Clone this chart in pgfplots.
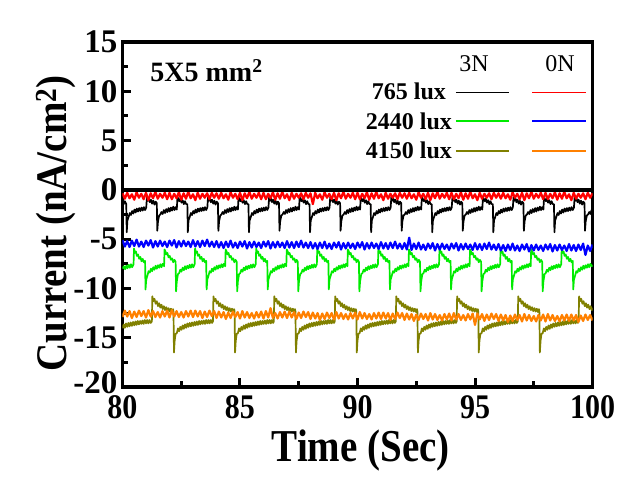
\documentclass[border=0pt]{standalone}
\usepackage{pgfplots}
\usepackage{pgfplotstable}
\usepackage{graphicx}
\usepackage{fontspec}
\setmainfont{Liberation Serif}
\pgfplotsset{compat=1.18}
\definecolor{cgreen}{RGB}{0,235,0}
\definecolor{colive}{RGB}{128,128,0}
\definecolor{corange}{RGB}{255,128,0}
% 0N series (765 lux red, 2440 lux blue, 4150 lux orange)
\pgfplotstableread{
t red blue orange
80.0 -0.35 -5.10 -12.90
80.1 -0.90 -5.75 -12.25
80.2 -0.30 -5.20 -12.85
80.3 -0.85 -5.80 -12.30
80.4 -0.45 -5.15 -13.00
80.5 -1.00 -5.70 -12.35
80.6 -0.25 -5.05 -12.90
80.7 -0.80 -5.75 -12.25
80.8 -0.40 -5.25 -12.80
80.9 -0.95 -5.80 -12.30
81.0 -0.30 -5.15 -12.95
81.1 -1.05 -5.65 -12.20
81.2 -0.35 -5.10 -12.85
81.3 -0.85 -5.85 -12.30
81.4 -0.20 -5.20 -12.90
81.5 -0.90 -5.75 -12.40
81.6 -0.40 -5.15 -12.95
81.7 -0.80 -5.70 -12.30
81.8 -0.30 -5.25 -12.85
81.9 -0.95 -5.80 -12.25
82.0 -0.30 -5.15 -12.95
82.1 -0.95 -5.65 -12.20
82.2 -0.40 -5.10 -12.85
82.3 -0.85 -5.85 -12.30
82.4 -0.25 -5.20 -12.90
82.5 -1.00 -5.75 -12.40
82.6 -0.35 -5.15 -12.95
82.7 -0.90 -5.70 -12.30
82.8 -0.20 -5.25 -12.85
82.9 -0.85 -5.80 -12.25
83.0 -0.45 -5.10 -12.90
83.1 -1.05 -5.75 -12.25
83.2 -0.30 -5.20 -12.85
83.3 -0.90 -5.80 -12.30
83.4 -0.40 -5.15 -13.00
83.5 -0.80 -5.70 -12.35
83.6 -0.35 -5.05 -12.90
83.7 -0.95 -5.75 -12.25
83.8 -0.30 -5.25 -12.80
83.9 -0.80 -5.80 -12.30
84.0 -0.35 -5.20 -13.00
84.1 -0.90 -5.85 -12.35
84.2 -0.30 -5.30 -12.95
84.3 -0.85 -5.90 -12.40
84.4 -0.45 -5.25 -13.10
84.5 -1.00 -5.80 -12.45
84.6 -0.25 -5.15 -13.00
84.7 -0.80 -5.85 -12.35
84.8 -0.40 -5.35 -12.90
84.9 -0.95 -5.90 -12.40
85.0 -0.30 -5.25 -13.05
85.1 -1.05 -5.75 -12.30
85.2 -0.35 -5.20 -12.95
85.3 -0.85 -5.95 -12.40
85.4 -0.20 -5.30 -13.00
85.5 -0.90 -5.85 -12.50
85.6 -0.40 -5.25 -13.05
85.7 -0.80 -5.80 -12.40
85.8 -0.30 -5.35 -12.95
85.9 -0.95 -5.90 -12.35
86.0 -0.30 -5.25 -13.05
86.1 -0.95 -5.75 -12.30
86.2 -0.40 -5.20 -12.95
86.3 -0.85 -5.95 -12.00
86.4 -0.25 -5.30 -13.00
86.5 -1.00 -5.85 -12.50
86.6 -0.35 -5.25 -13.05
86.7 -0.90 -5.80 -12.40
86.8 -0.20 -5.35 -12.95
86.9 -0.85 -5.90 -12.35
87.0 -0.45 -5.20 -13.00
87.1 -1.05 -5.85 -12.35
87.2 -0.30 -5.30 -12.95
87.3 -0.90 -5.90 -12.40
87.4 -0.40 -5.25 -13.10
87.5 -0.80 -5.80 -12.45
87.6 -0.35 -5.15 -13.00
87.7 -0.95 -5.85 -12.35
87.8 -0.30 -5.35 -12.90
87.9 -0.80 -5.90 -12.40
88.0 -0.35 -5.30 -13.10
88.1 -1.45 -5.95 -12.45
88.2 -0.30 -5.40 -13.05
88.3 -0.85 -6.00 -12.50
88.4 -0.45 -5.35 -13.20
88.5 -1.00 -5.90 -12.55
88.6 -0.25 -5.25 -13.10
88.7 -0.80 -5.95 -12.45
88.8 -0.40 -5.45 -13.00
88.9 -0.95 -6.00 -12.50
89.0 -0.30 -5.35 -13.15
89.1 -1.05 -5.85 -12.40
89.2 -0.35 -5.30 -13.05
89.3 -0.85 -6.05 -12.50
89.4 -0.20 -5.40 -13.10
89.5 -0.90 -5.95 -12.60
89.6 -0.40 -5.35 -13.15
89.7 -0.80 -5.90 -12.50
89.8 -0.30 -5.45 -13.05
89.9 -0.95 -6.00 -12.45
90.0 -0.30 -5.35 -13.15
90.1 -0.95 -5.85 -12.40
90.2 -0.40 -5.30 -13.05
90.3 -0.85 -6.05 -12.50
90.4 -0.25 -5.40 -13.10
90.5 -1.00 -5.95 -12.60
90.6 -0.35 -5.35 -13.15
90.7 -0.90 -5.90 -12.50
90.8 -0.20 -5.45 -13.05
90.9 -0.85 -6.00 -12.45
91.0 -0.45 -5.30 -13.10
91.1 -1.05 -5.95 -12.45
91.2 -0.30 -5.40 -13.05
91.3 -0.90 -6.00 -12.50
91.4 -0.40 -5.35 -13.20
91.5 -0.80 -5.90 -12.55
91.6 -0.35 -5.25 -13.10
91.7 -0.95 -5.95 -12.45
91.8 -0.30 -5.45 -13.00
91.9 -0.80 -6.00 -12.50
92.0 -0.35 -5.40 -13.20
92.1 -0.90 -6.05 -12.55
92.2 -0.30 -4.85 -13.15
92.3 -0.85 -6.10 -12.60
92.4 -0.45 -5.45 -13.30
92.5 -1.00 -6.00 -12.65
92.6 -0.25 -5.35 -13.20
92.7 -0.80 -6.05 -12.55
92.8 -0.40 -5.55 -13.10
92.9 -0.95 -6.10 -12.60
93.0 -0.30 -5.45 -13.25
93.1 -1.05 -5.95 -12.50
93.2 -0.35 -5.40 -13.15
93.3 -0.85 -6.15 -12.60
93.4 -0.20 -5.50 -13.20
93.5 -0.90 -6.05 -12.70
93.6 -0.40 -5.45 -13.25
93.7 -0.80 -6.00 -12.60
93.8 -0.30 -5.55 -13.15
93.9 -0.95 -6.10 -12.55
94.0 -0.30 -5.45 -13.25
94.1 -0.95 -5.95 -12.50
94.2 -0.40 -5.40 -13.15
94.3 -0.85 -6.15 -12.60
94.4 -0.25 -5.50 -13.20
94.5 -1.00 -6.05 -12.70
94.6 -0.35 -5.45 -13.25
94.7 -0.90 -6.00 -12.60
94.8 -0.20 -5.55 -13.15
94.9 -0.85 -6.10 -12.55
95.0 -0.45 -5.40 -13.70
95.1 -1.05 -6.05 -12.55
95.2 -0.30 -5.50 -13.15
95.3 -0.90 -6.10 -12.60
95.4 -0.40 -5.45 -13.30
95.5 -0.80 -6.00 -12.65
95.6 -0.35 -5.35 -13.20
95.7 -0.95 -6.05 -12.55
95.8 -0.30 -5.55 -13.10
95.9 -0.80 -6.10 -12.60
96.0 -0.35 -5.50 -13.30
96.1 -0.90 -6.15 -12.65
96.2 -0.30 -5.60 -13.25
96.3 -0.85 -6.20 -12.70
96.4 -0.45 -5.55 -13.40
96.5 -1.00 -6.10 -12.75
96.6 -0.25 -5.45 -13.30
96.7 -0.80 -6.15 -12.65
96.8 -0.40 -5.65 -13.20
96.9 -0.95 -6.20 -12.70
97.0 -0.30 -5.55 -13.35
97.1 -1.05 -6.05 -12.60
97.2 -0.35 -5.50 -13.25
97.3 -0.85 -6.25 -12.70
97.4 -0.20 -5.60 -13.30
97.5 -0.90 -6.15 -12.80
97.6 -0.40 -5.55 -13.35
97.7 -0.80 -6.10 -12.70
97.8 -0.30 -5.65 -13.25
97.9 -0.95 -6.20 -12.65
98.0 -0.30 -5.55 -13.35
98.1 -0.95 -6.05 -12.60
98.2 -0.40 -5.50 -13.25
98.3 -0.85 -6.25 -12.70
98.4 -0.25 -5.60 -13.30
98.5 -1.00 -6.15 -12.80
98.6 -0.35 -5.55 -13.35
98.7 -0.90 -6.10 -12.70
98.8 -0.20 -5.65 -13.25
98.9 -0.85 -6.20 -12.65
99.0 -0.45 -5.50 -13.30
99.1 -1.05 -6.15 -12.65
99.2 -0.30 -5.60 -13.25
99.3 -0.90 -6.20 -12.70
99.4 -0.40 -5.55 -13.40
99.5 -0.80 -6.10 -12.75
99.6 -0.35 -5.45 -13.30
99.7 -0.95 -6.60 -12.65
99.8 -0.30 -5.65 -13.20
99.9 -0.80 -6.20 -12.70
100.0 -0.35 -5.55 -13.25
}\flat
\begin{document}
\begin{tikzpicture}
\begin{axis}[
  at={(0,0)}, anchor=south west,
  scale only axis, width=470bp, height=345bp,
  xmin=80, xmax=100, ymin=-20, ymax=15,
  xtick={80,85,90,95,100},
  xticklabels={\scalebox{1}[1.15]{80},\scalebox{1}[1.15]{85},\scalebox{1}[1.15]{90},\scalebox{1}[1.15]{95},\scalebox{1}[1.15]{100}},
  ytick={-20,-15,-10,-5,0,5,10,15},
  yticklabels={\raisebox{9bp}{-20},-15,-10,-5,0,5,10,15},
  minor x tick num=1, minor y tick num=1,
  tick align=inside, xtick pos=bottom, ytick pos=left,
  major tick length=9bp, minor tick length=6bp,
  tick style={line width=3bp, black},
  axis line style={line width=3.5bp},
  xticklabel style={font=\fontsize{30bp}{30bp}\selectfont\bfseries, inner sep=0pt, anchor=north, yshift=-8bp},
  yticklabel style={font=\fontsize{33bp}{33bp}\selectfont\bfseries, inner sep=0pt, anchor=east, xshift=-5bp},
  xlabel={\scalebox{1}[1.17]{Time (Sec)}},
  ylabel={\scalebox{1}[1.12]{Current (nA/cm\textsuperscript{2})}},
  every axis x label/.style={at={(axis description cs:0.507,-0.2165)}, anchor=base, font=\fontsize{39bp}{39bp}\selectfont\bfseries},
  every axis y label/.style={at={(axis description cs:-0.1187,0.4745)}, anchor=base, rotate=90, font=\fontsize{39bp}{39bp}\selectfont\bfseries},
  every axis plot/.append style={line width=1.7bp, line join=round},
]
% 3N, 765 lux
\addplot[black] coordinates {
(80.00,-1.20)(80.05,-1.45)(80.10,-1.15)
(80.16,-1.45)(80.18,-4.30)(80.21,-3.10)(80.26,-2.75)(80.31,-2.35)(80.36,-2.55)(80.41,-2.15)(80.46,-2.40)(80.51,-2.00)(80.56,-2.30)(80.61,-1.90)(80.66,-2.20)(80.71,-1.85)(80.76,-2.15)(80.81,-1.80)(80.86,-2.10)(80.91,-1.75)(80.96,-2.05)(81.01,-1.80)(81.04,-0.75)(81.08,-1.10)(81.12,-0.85)(81.16,-1.25)(81.21,-1.00)(81.26,-1.40)(81.31,-1.10)(81.36,-1.50)(81.41,-1.20)
(81.46,-1.35)(81.48,-4.15)(81.51,-3.20)(81.56,-2.60)(81.61,-2.50)(81.66,-2.25)(81.71,-2.45)(81.76,-2.05)(81.81,-2.35)(81.86,-1.95)(81.91,-2.25)(81.96,-1.85)(82.01,-2.20)(82.06,-1.80)(82.11,-2.10)(82.16,-1.70)(82.21,-2.05)(82.26,-1.75)(82.31,-2.00)(82.34,-0.70)(82.38,-1.00)(82.42,-1.15)(82.46,-0.90)(82.51,-1.30)(82.56,-1.05)(82.61,-1.45)(82.66,-1.15)(82.71,-1.45)
(82.76,-1.45)(82.78,-4.30)(82.81,-3.10)(82.86,-2.75)(82.91,-2.35)(82.96,-2.55)(83.01,-2.15)(83.06,-2.40)(83.11,-2.00)(83.16,-2.30)(83.21,-1.90)(83.26,-2.20)(83.31,-1.85)(83.36,-2.15)(83.41,-1.80)(83.46,-2.10)(83.51,-1.75)(83.56,-2.05)(83.61,-1.80)(83.64,-0.75)(83.68,-1.10)(83.72,-0.85)(83.76,-1.25)(83.81,-1.00)(83.86,-1.40)(83.91,-1.10)(83.96,-1.50)(84.01,-1.20)
(84.06,-1.35)(84.08,-4.15)(84.11,-3.20)(84.16,-2.60)(84.21,-2.50)(84.26,-2.25)(84.31,-2.45)(84.36,-2.05)(84.41,-2.35)(84.46,-1.95)(84.51,-2.25)(84.56,-1.85)(84.61,-2.20)(84.66,-1.80)(84.71,-2.10)(84.76,-1.70)(84.81,-2.05)(84.86,-1.75)(84.91,-2.00)(84.94,-0.70)(84.98,-1.00)(85.02,-1.15)(85.06,-0.90)(85.11,-1.30)(85.16,-1.05)(85.21,-1.45)(85.26,-1.15)(85.31,-1.45)
(85.36,-1.45)(85.38,-4.30)(85.41,-3.10)(85.46,-2.75)(85.51,-2.35)(85.56,-2.55)(85.61,-2.15)(85.66,-2.40)(85.71,-2.00)(85.76,-2.30)(85.81,-1.90)(85.86,-2.20)(85.91,-1.85)(85.96,-2.15)(86.01,-1.80)(86.06,-2.10)(86.11,-1.75)(86.16,-2.05)(86.21,-1.80)(86.24,-0.75)(86.28,-1.10)(86.32,-0.85)(86.36,-1.25)(86.41,-1.00)(86.46,-1.40)(86.51,-1.10)(86.56,-1.50)(86.61,-1.20)
(86.66,-1.35)(86.68,-4.15)(86.71,-3.20)(86.76,-2.60)(86.81,-2.50)(86.86,-2.25)(86.91,-2.45)(86.96,-2.05)(87.01,-2.35)(87.06,-1.95)(87.11,-2.25)(87.16,-1.85)(87.21,-2.20)(87.26,-1.80)(87.31,-2.10)(87.36,-1.70)(87.41,-2.05)(87.46,-1.75)(87.51,-2.00)(87.54,-0.70)(87.58,-1.00)(87.62,-1.15)(87.66,-0.90)(87.71,-1.30)(87.76,-1.05)(87.81,-1.45)(87.86,-1.15)(87.91,-1.45)
(87.96,-1.45)(87.98,-4.30)(88.01,-3.10)(88.06,-2.75)(88.11,-2.35)(88.16,-2.55)(88.21,-2.15)(88.26,-2.40)(88.31,-2.00)(88.36,-2.30)(88.41,-1.90)(88.46,-2.20)(88.51,-1.85)(88.56,-2.15)(88.61,-1.80)(88.66,-2.10)(88.71,-1.75)(88.76,-2.05)(88.81,-1.80)(88.84,-0.75)(88.88,-1.10)(88.92,-0.85)(88.96,-1.25)(89.01,-1.00)(89.06,-1.40)(89.11,-1.10)(89.16,-1.50)(89.21,-1.20)
(89.26,-1.35)(89.28,-4.15)(89.31,-3.20)(89.36,-2.60)(89.41,-2.50)(89.46,-2.25)(89.51,-2.45)(89.56,-2.05)(89.61,-2.35)(89.66,-1.95)(89.71,-2.25)(89.76,-1.85)(89.81,-2.20)(89.86,-1.80)(89.91,-2.10)(89.96,-1.70)(90.01,-2.05)(90.06,-1.75)(90.11,-2.00)(90.14,-0.70)(90.18,-1.00)(90.22,-1.15)(90.26,-0.90)(90.31,-1.30)(90.36,-1.05)(90.41,-1.45)(90.46,-1.15)(90.51,-1.45)
(90.56,-1.45)(90.58,-4.30)(90.61,-3.10)(90.66,-2.75)(90.71,-2.35)(90.76,-2.55)(90.81,-2.15)(90.86,-2.40)(90.91,-2.00)(90.96,-2.30)(91.01,-1.90)(91.06,-2.20)(91.11,-1.85)(91.16,-2.15)(91.21,-1.80)(91.26,-2.10)(91.31,-1.75)(91.36,-2.05)(91.41,-1.80)(91.44,-0.75)(91.48,-1.10)(91.52,-0.85)(91.56,-1.25)(91.61,-1.00)(91.66,-1.40)(91.71,-1.10)(91.76,-1.50)(91.81,-1.20)
(91.86,-1.35)(91.88,-4.15)(91.91,-3.20)(91.96,-2.60)(92.01,-2.50)(92.06,-2.25)(92.11,-2.45)(92.16,-2.05)(92.21,-2.35)(92.26,-1.95)(92.31,-2.25)(92.36,-1.85)(92.41,-2.20)(92.46,-1.80)(92.51,-2.10)(92.56,-1.70)(92.61,-2.05)(92.66,-1.75)(92.71,-2.00)(92.74,-0.70)(92.78,-1.00)(92.82,-1.15)(92.86,-0.90)(92.91,-1.30)(92.96,-1.05)(93.01,-1.45)(93.06,-1.15)(93.11,-1.45)
(93.16,-1.45)(93.18,-4.30)(93.21,-3.10)(93.26,-2.75)(93.31,-2.35)(93.36,-2.55)(93.41,-2.15)(93.46,-2.40)(93.51,-2.00)(93.56,-2.30)(93.61,-1.90)(93.66,-2.20)(93.71,-1.85)(93.76,-2.15)(93.81,-1.80)(93.86,-2.10)(93.91,-1.75)(93.96,-2.05)(94.01,-1.80)(94.04,-0.75)(94.08,-1.10)(94.12,-0.85)(94.16,-1.25)(94.21,-1.00)(94.26,-1.40)(94.31,-1.10)(94.36,-1.50)(94.41,-1.20)
(94.46,-1.35)(94.48,-4.15)(94.51,-3.20)(94.56,-2.60)(94.61,-2.50)(94.66,-2.25)(94.71,-2.45)(94.76,-2.05)(94.81,-2.35)(94.86,-1.95)(94.91,-2.25)(94.96,-1.85)(95.01,-2.20)(95.06,-1.80)(95.11,-2.10)(95.16,-1.70)(95.21,-2.05)(95.26,-1.75)(95.31,-2.00)(95.34,-0.70)(95.38,-1.00)(95.42,-1.15)(95.46,-0.90)(95.51,-1.30)(95.56,-1.05)(95.61,-1.45)(95.66,-1.15)(95.71,-1.45)
(95.76,-1.45)(95.78,-4.30)(95.81,-3.10)(95.86,-2.75)(95.91,-2.35)(95.96,-2.55)(96.01,-2.15)(96.06,-2.40)(96.11,-2.00)(96.16,-2.30)(96.21,-1.90)(96.26,-2.20)(96.31,-1.85)(96.36,-2.15)(96.41,-1.80)(96.46,-2.10)(96.51,-1.75)(96.56,-2.05)(96.61,-1.80)(96.64,-0.75)(96.68,-1.10)(96.72,-0.85)(96.76,-1.25)(96.81,-1.00)(96.86,-1.40)(96.91,-1.10)(96.96,-1.50)(97.01,-1.20)
(97.06,-1.35)(97.08,-4.15)(97.11,-3.20)(97.16,-2.60)(97.21,-2.50)(97.26,-2.25)(97.31,-2.45)(97.36,-2.05)(97.41,-2.35)(97.46,-1.95)(97.51,-2.25)(97.56,-1.85)(97.61,-2.20)(97.66,-1.80)(97.71,-2.10)(97.76,-1.70)(97.81,-2.05)(97.86,-1.75)(97.91,-2.00)(97.94,-0.70)(97.98,-1.00)(98.02,-1.15)(98.06,-0.90)(98.11,-1.30)(98.16,-1.05)(98.21,-1.45)(98.26,-1.15)(98.31,-1.45)
(98.36,-1.45)(98.38,-4.30)(98.41,-3.10)(98.46,-2.75)(98.51,-2.35)(98.56,-2.55)(98.61,-2.15)(98.66,-2.40)(98.71,-2.00)(98.76,-2.30)(98.81,-1.90)(98.86,-2.20)(98.91,-1.85)(98.96,-2.15)(99.01,-1.80)(99.06,-2.10)(99.11,-1.75)(99.16,-2.05)(99.21,-1.80)(99.24,-0.75)(99.28,-1.10)(99.32,-0.85)(99.36,-1.25)(99.41,-1.00)(99.46,-1.40)(99.51,-1.10)(99.56,-1.50)(99.61,-1.20)
(99.66,-1.35)(99.68,-4.15)(99.71,-3.20)(99.76,-2.60)(99.81,-2.50)(99.86,-2.25)(99.91,-2.45)(99.96,-2.05)(100.00,-2.30)
};
% 3N, 2440 lux
\addplot[cgreen] coordinates {
(80.00,-8.00)(80.06,-7.75)(80.11,-8.05)(80.16,-7.70)(80.21,-7.95)(80.26,-7.60)(80.31,-7.90)(80.36,-7.55)(80.41,-7.85)(80.47,-7.55)(80.49,-5.95)(80.53,-6.40)(80.57,-6.25)(80.61,-6.70)(80.66,-6.55)(80.71,-7.00)(80.76,-6.80)(80.81,-7.25)(80.86,-7.00)(80.91,-7.35)
(80.96,-7.20)(80.98,-10.10)(81.01,-9.10)(81.06,-8.70)(81.11,-8.25)(81.16,-8.40)(81.21,-8.00)(81.26,-8.25)(81.31,-7.85)(81.36,-8.10)(81.41,-7.70)(81.46,-8.00)(81.51,-7.65)(81.56,-7.90)(81.61,-7.55)(81.66,-7.85)(81.71,-7.50)(81.77,-7.75)(81.79,-6.05)(81.83,-6.25)(81.87,-6.55)(81.91,-6.40)(81.96,-6.85)(82.01,-6.70)(82.06,-7.10)(82.11,-6.95)(82.16,-7.35)(82.21,-7.10)
(82.26,-7.30)(82.28,-10.30)(82.31,-9.30)(82.36,-8.55)(82.41,-8.45)(82.46,-8.10)(82.51,-8.30)(82.56,-7.90)(82.61,-8.15)(82.66,-7.75)(82.71,-8.05)(82.76,-7.70)(82.81,-7.95)(82.86,-7.60)(82.91,-7.90)(82.96,-7.55)(83.01,-7.85)(83.07,-7.55)(83.09,-5.95)(83.13,-6.40)(83.17,-6.25)(83.21,-6.70)(83.26,-6.55)(83.31,-7.00)(83.36,-6.80)(83.41,-7.25)(83.46,-7.00)(83.51,-7.35)
(83.56,-7.20)(83.58,-10.10)(83.61,-9.10)(83.66,-8.70)(83.71,-8.25)(83.76,-8.40)(83.81,-8.00)(83.86,-8.25)(83.91,-7.85)(83.96,-8.10)(84.01,-7.70)(84.06,-8.00)(84.11,-7.65)(84.16,-7.90)(84.21,-7.55)(84.26,-7.85)(84.31,-7.50)(84.37,-7.75)(84.39,-6.05)(84.43,-6.25)(84.47,-6.55)(84.51,-6.40)(84.56,-6.85)(84.61,-6.70)(84.66,-7.10)(84.71,-6.95)(84.76,-7.35)(84.81,-7.10)
(84.86,-7.30)(84.88,-10.30)(84.91,-9.30)(84.96,-8.55)(85.01,-8.45)(85.06,-8.10)(85.11,-8.30)(85.16,-7.90)(85.21,-8.15)(85.26,-7.75)(85.31,-8.05)(85.36,-7.70)(85.41,-7.95)(85.46,-7.60)(85.51,-7.90)(85.56,-7.55)(85.61,-7.85)(85.67,-7.55)(85.69,-5.95)(85.73,-6.40)(85.77,-6.25)(85.81,-6.70)(85.86,-6.55)(85.91,-7.00)(85.96,-6.80)(86.01,-7.25)(86.06,-7.00)(86.11,-7.35)
(86.16,-7.20)(86.18,-10.10)(86.21,-9.10)(86.26,-8.70)(86.31,-8.25)(86.36,-8.40)(86.41,-8.00)(86.46,-8.25)(86.51,-7.85)(86.56,-8.10)(86.61,-7.70)(86.66,-8.00)(86.71,-7.65)(86.76,-7.90)(86.81,-7.55)(86.86,-7.85)(86.91,-7.50)(86.97,-7.75)(86.99,-6.05)(87.03,-6.25)(87.07,-6.55)(87.11,-6.40)(87.16,-6.85)(87.21,-6.70)(87.26,-7.10)(87.31,-6.95)(87.36,-7.35)(87.41,-7.10)
(87.46,-7.30)(87.48,-10.30)(87.51,-9.30)(87.56,-8.55)(87.61,-8.45)(87.66,-8.10)(87.71,-8.30)(87.76,-7.90)(87.81,-8.15)(87.86,-7.75)(87.91,-8.05)(87.96,-7.70)(88.01,-7.95)(88.06,-7.60)(88.11,-7.90)(88.16,-7.55)(88.21,-7.85)(88.27,-7.55)(88.29,-5.95)(88.33,-6.40)(88.37,-6.25)(88.41,-6.70)(88.46,-6.55)(88.51,-7.00)(88.56,-6.80)(88.61,-7.25)(88.66,-7.00)(88.71,-7.35)
(88.76,-7.20)(88.78,-10.10)(88.81,-9.10)(88.86,-8.70)(88.91,-8.25)(88.96,-8.40)(89.01,-8.00)(89.06,-8.25)(89.11,-7.85)(89.16,-8.10)(89.21,-7.70)(89.26,-8.00)(89.31,-7.65)(89.36,-7.90)(89.41,-7.55)(89.46,-7.85)(89.51,-7.50)(89.57,-7.75)(89.59,-6.05)(89.63,-6.25)(89.67,-6.55)(89.71,-6.40)(89.76,-6.85)(89.81,-6.70)(89.86,-7.10)(89.91,-6.95)(89.96,-7.35)(90.01,-7.10)
(90.06,-7.30)(90.08,-10.30)(90.11,-9.30)(90.16,-8.55)(90.21,-8.45)(90.26,-8.10)(90.31,-8.30)(90.36,-7.90)(90.41,-8.15)(90.46,-7.75)(90.51,-8.05)(90.56,-7.70)(90.61,-7.95)(90.66,-7.60)(90.71,-7.90)(90.76,-7.55)(90.81,-7.85)(90.87,-7.55)(90.89,-5.95)(90.93,-6.40)(90.97,-6.25)(91.01,-6.70)(91.06,-6.55)(91.11,-7.00)(91.16,-6.80)(91.21,-7.25)(91.26,-7.00)(91.31,-7.35)
(91.36,-7.20)(91.38,-10.10)(91.41,-9.10)(91.46,-8.70)(91.51,-8.25)(91.56,-8.40)(91.61,-8.00)(91.66,-8.25)(91.71,-7.85)(91.76,-8.10)(91.81,-7.70)(91.86,-8.00)(91.91,-7.65)(91.96,-7.90)(92.01,-7.55)(92.06,-7.85)(92.11,-7.50)(92.17,-7.75)(92.19,-6.05)(92.23,-6.25)(92.27,-6.55)(92.31,-6.40)(92.36,-6.85)(92.41,-6.70)(92.46,-7.10)(92.51,-6.95)(92.56,-7.35)(92.61,-7.10)
(92.66,-7.30)(92.68,-10.30)(92.71,-9.30)(92.76,-8.55)(92.81,-8.45)(92.86,-8.10)(92.91,-8.30)(92.96,-7.90)(93.01,-8.15)(93.06,-7.75)(93.11,-8.05)(93.16,-7.70)(93.21,-7.95)(93.26,-7.60)(93.31,-7.90)(93.36,-7.55)(93.41,-7.85)(93.47,-7.55)(93.49,-5.95)(93.53,-6.40)(93.57,-6.25)(93.61,-6.70)(93.66,-6.55)(93.71,-7.00)(93.76,-6.80)(93.81,-7.25)(93.86,-7.00)(93.91,-7.35)
(93.96,-7.20)(93.98,-10.10)(94.01,-9.10)(94.06,-8.70)(94.11,-8.25)(94.16,-8.40)(94.21,-8.00)(94.26,-8.25)(94.31,-7.85)(94.36,-8.10)(94.41,-7.70)(94.46,-8.00)(94.51,-7.65)(94.56,-7.90)(94.61,-7.55)(94.66,-7.85)(94.71,-7.50)(94.77,-7.75)(94.79,-6.05)(94.83,-6.25)(94.87,-6.55)(94.91,-6.40)(94.96,-6.85)(95.01,-6.70)(95.06,-7.10)(95.11,-6.95)(95.16,-7.35)(95.21,-7.10)
(95.26,-7.30)(95.28,-10.30)(95.31,-9.30)(95.36,-8.55)(95.41,-8.45)(95.46,-8.10)(95.51,-8.30)(95.56,-7.90)(95.61,-8.15)(95.66,-7.75)(95.71,-8.05)(95.76,-7.70)(95.81,-7.95)(95.86,-7.60)(95.91,-7.90)(95.96,-7.55)(96.01,-7.85)(96.07,-7.55)(96.09,-5.95)(96.13,-6.40)(96.17,-6.25)(96.21,-6.70)(96.26,-6.55)(96.31,-7.00)(96.36,-6.80)(96.41,-7.25)(96.46,-7.00)(96.51,-7.35)
(96.56,-7.20)(96.58,-10.10)(96.61,-9.10)(96.66,-8.70)(96.71,-8.25)(96.76,-8.40)(96.81,-8.00)(96.86,-8.25)(96.91,-7.85)(96.96,-8.10)(97.01,-7.70)(97.06,-8.00)(97.11,-7.65)(97.16,-7.90)(97.21,-7.55)(97.26,-7.85)(97.31,-7.50)(97.37,-7.75)(97.39,-6.05)(97.43,-6.25)(97.47,-6.55)(97.51,-6.40)(97.56,-6.85)(97.61,-6.70)(97.66,-7.10)(97.71,-6.95)(97.76,-7.35)(97.81,-7.10)
(97.86,-7.30)(97.88,-10.30)(97.91,-9.30)(97.96,-8.55)(98.01,-8.45)(98.06,-8.10)(98.11,-8.30)(98.16,-7.90)(98.21,-8.15)(98.26,-7.75)(98.31,-8.05)(98.36,-7.70)(98.41,-7.95)(98.46,-7.60)(98.51,-7.90)(98.56,-7.55)(98.61,-7.85)(98.67,-7.55)(98.69,-5.95)(98.73,-6.40)(98.77,-6.25)(98.81,-6.70)(98.86,-6.55)(98.91,-7.00)(98.96,-6.80)(99.01,-7.25)(99.06,-7.00)(99.11,-7.35)
(99.16,-7.20)(99.18,-10.10)(99.21,-9.10)(99.26,-8.70)(99.31,-8.25)(99.36,-8.40)(99.41,-8.00)(99.46,-8.25)(99.51,-7.85)(99.56,-8.10)(99.61,-7.70)(99.66,-8.00)(99.71,-7.65)(99.76,-7.90)(99.81,-7.55)(99.86,-7.85)(99.91,-7.50)(99.97,-7.75)(100.00,-7.60)
};
% 3N, 4150 lux
\addplot[colive] coordinates {
(80.00,-14.05)(80.05,-13.65)(80.10,-14.00)(80.15,-13.55)(80.20,-13.90)(80.25,-13.50)(80.30,-13.85)(80.35,-13.45)(80.40,-13.80)(80.45,-13.40)(80.50,-13.75)(80.55,-13.35)(80.60,-13.70)(80.65,-13.30)(80.70,-13.65)(80.75,-13.30)(80.80,-13.60)(80.85,-13.25)(80.90,-13.60)(80.95,-13.20)(81.00,-13.55)(81.05,-13.20)(81.10,-13.55)(81.15,-13.20)(81.20,-13.50)
(81.25,-13.35)(81.27,-10.80)(81.31,-11.30)(81.36,-11.05)(81.41,-11.55)(81.46,-11.30)(81.51,-11.80)(81.56,-11.50)(81.61,-11.95)(81.66,-11.65)(81.71,-12.10)(81.76,-11.80)(81.81,-12.20)(81.86,-11.90)(81.91,-12.30)(81.96,-12.00)(82.01,-12.35)(82.06,-12.05)(82.11,-12.40)(82.15,-12.10)(82.17,-12.35)(82.19,-16.50)(82.22,-15.30)(82.26,-14.60)(82.31,-14.55)(82.36,-14.05)(82.41,-14.35)(82.46,-13.90)(82.51,-14.20)(82.56,-13.75)(82.61,-14.10)(82.66,-13.65)(82.71,-14.00)(82.76,-13.55)(82.81,-13.90)(82.86,-13.50)(82.91,-13.85)(82.96,-13.45)(83.01,-13.80)(83.06,-13.40)(83.11,-13.75)(83.16,-13.35)(83.21,-13.70)(83.26,-13.30)(83.31,-13.65)(83.36,-13.30)(83.41,-13.60)(83.46,-13.25)(83.51,-13.60)(83.56,-13.20)(83.61,-13.55)(83.66,-13.20)(83.71,-13.55)(83.76,-13.20)(83.81,-13.50)
(83.85,-13.35)(83.87,-10.80)(83.91,-11.30)(83.96,-11.05)(84.01,-11.55)(84.06,-11.30)(84.11,-11.80)(84.16,-11.50)(84.21,-11.95)(84.26,-11.65)(84.31,-12.10)(84.36,-11.80)(84.41,-12.20)(84.46,-11.90)(84.51,-12.30)(84.56,-12.00)(84.61,-12.35)(84.66,-12.05)(84.71,-12.40)(84.75,-12.10)(84.77,-12.35)(84.79,-16.50)(84.82,-15.30)(84.86,-14.60)(84.91,-14.55)(84.96,-14.05)(85.01,-14.35)(85.06,-13.90)(85.11,-14.20)(85.16,-13.75)(85.21,-14.10)(85.26,-13.65)(85.31,-14.00)(85.36,-13.55)(85.41,-13.90)(85.46,-13.50)(85.51,-13.85)(85.56,-13.45)(85.61,-13.80)(85.66,-13.40)(85.71,-13.75)(85.76,-13.35)(85.81,-13.70)(85.86,-13.30)(85.91,-13.65)(85.96,-13.30)(86.01,-13.60)(86.06,-13.25)(86.11,-13.60)(86.16,-13.20)(86.21,-13.55)(86.26,-13.20)(86.31,-13.55)(86.36,-13.20)(86.41,-13.50)
(86.44,-13.35)(86.46,-10.80)(86.50,-11.30)(86.55,-11.05)(86.60,-11.55)(86.65,-11.30)(86.70,-11.80)(86.75,-11.50)(86.80,-11.95)(86.85,-11.65)(86.90,-12.10)(86.95,-11.80)(87.00,-12.20)(87.05,-11.90)(87.10,-12.30)(87.15,-12.00)(87.20,-12.35)(87.25,-12.05)(87.30,-12.40)(87.34,-12.10)(87.36,-12.35)(87.38,-16.50)(87.41,-15.30)(87.45,-14.60)(87.50,-14.55)(87.55,-14.05)(87.60,-14.35)(87.65,-13.90)(87.70,-14.20)(87.75,-13.75)(87.80,-14.10)(87.85,-13.65)(87.90,-14.00)(87.95,-13.55)(88.00,-13.90)(88.05,-13.50)(88.10,-13.85)(88.15,-13.45)(88.20,-13.80)(88.25,-13.40)(88.30,-13.75)(88.35,-13.35)(88.40,-13.70)(88.45,-13.30)(88.50,-13.65)(88.55,-13.30)(88.60,-13.60)(88.65,-13.25)(88.70,-13.60)(88.75,-13.20)(88.80,-13.55)(88.85,-13.20)(88.90,-13.55)(88.95,-13.20)(89.00,-13.50)
(89.03,-13.35)(89.05,-10.80)(89.09,-11.30)(89.14,-11.05)(89.19,-11.55)(89.24,-11.30)(89.29,-11.80)(89.34,-11.50)(89.39,-11.95)(89.44,-11.65)(89.49,-12.10)(89.54,-11.80)(89.59,-12.20)(89.64,-11.90)(89.69,-12.30)(89.74,-12.00)(89.79,-12.35)(89.84,-12.05)(89.89,-12.40)(89.93,-12.10)(89.95,-12.35)(89.97,-16.50)(90.00,-15.30)(90.04,-14.60)(90.09,-14.55)(90.14,-14.05)(90.19,-14.35)(90.24,-13.90)(90.29,-14.20)(90.34,-13.75)(90.39,-14.10)(90.44,-13.65)(90.49,-14.00)(90.54,-13.55)(90.59,-13.90)(90.64,-13.50)(90.69,-13.85)(90.74,-13.45)(90.79,-13.80)(90.84,-13.40)(90.89,-13.75)(90.94,-13.35)(90.99,-13.70)(91.04,-13.30)(91.09,-13.65)(91.14,-13.30)(91.19,-13.60)(91.24,-13.25)(91.29,-13.60)(91.34,-13.20)(91.39,-13.55)(91.44,-13.20)(91.49,-13.55)(91.54,-13.20)(91.59,-13.50)
(91.63,-13.35)(91.65,-10.80)(91.69,-11.30)(91.74,-11.05)(91.79,-11.55)(91.84,-11.30)(91.89,-11.80)(91.94,-11.50)(91.99,-11.95)(92.04,-11.65)(92.09,-12.10)(92.14,-11.80)(92.19,-12.20)(92.24,-11.90)(92.29,-12.30)(92.34,-12.00)(92.39,-12.35)(92.44,-12.05)(92.49,-12.40)(92.53,-12.10)(92.55,-12.35)(92.57,-16.50)(92.60,-15.30)(92.64,-14.60)(92.69,-14.55)(92.74,-14.05)(92.79,-14.35)(92.84,-13.90)(92.89,-14.20)(92.94,-13.75)(92.99,-14.10)(93.04,-13.65)(93.09,-14.00)(93.14,-13.55)(93.19,-13.90)(93.24,-13.50)(93.29,-13.85)(93.34,-13.45)(93.39,-13.80)(93.44,-13.40)(93.49,-13.75)(93.54,-13.35)(93.59,-13.70)(93.64,-13.30)(93.69,-13.65)(93.74,-13.30)(93.79,-13.60)(93.84,-13.25)(93.89,-13.60)(93.94,-13.20)(93.99,-13.55)(94.04,-13.20)(94.09,-13.55)(94.14,-13.20)(94.19,-13.50)
(94.22,-13.35)(94.24,-10.80)(94.28,-11.30)(94.33,-11.05)(94.38,-11.55)(94.43,-11.30)(94.48,-11.80)(94.53,-11.50)(94.58,-11.95)(94.63,-11.65)(94.68,-12.10)(94.73,-11.80)(94.78,-12.20)(94.83,-11.90)(94.88,-12.30)(94.93,-12.00)(94.98,-12.35)(95.03,-12.05)(95.08,-12.40)(95.12,-12.10)(95.14,-12.35)(95.16,-16.50)(95.19,-15.30)(95.23,-14.60)(95.28,-14.55)(95.33,-14.05)(95.38,-14.35)(95.43,-13.90)(95.48,-14.20)(95.53,-13.75)(95.58,-14.10)(95.63,-13.65)(95.68,-14.00)(95.73,-13.55)(95.78,-13.90)(95.83,-13.50)(95.88,-13.85)(95.93,-13.45)(95.98,-13.80)(96.03,-13.40)(96.08,-13.75)(96.13,-13.35)(96.18,-13.70)(96.23,-13.30)(96.28,-13.65)(96.33,-13.30)(96.38,-13.60)(96.43,-13.25)(96.48,-13.60)(96.53,-13.20)(96.58,-13.55)(96.63,-13.20)(96.68,-13.55)(96.73,-13.20)(96.78,-13.50)
(96.82,-13.35)(96.84,-10.80)(96.88,-11.30)(96.93,-11.05)(96.98,-11.55)(97.03,-11.30)(97.08,-11.80)(97.13,-11.50)(97.18,-11.95)(97.23,-11.65)(97.28,-12.10)(97.33,-11.80)(97.38,-12.20)(97.43,-11.90)(97.48,-12.30)(97.53,-12.00)(97.58,-12.35)(97.63,-12.05)(97.68,-12.40)(97.72,-12.10)(97.74,-12.35)(97.76,-16.50)(97.79,-15.30)(97.83,-14.60)(97.88,-14.55)(97.93,-14.05)(97.98,-14.35)(98.03,-13.90)(98.08,-14.20)(98.13,-13.75)(98.18,-14.10)(98.23,-13.65)(98.28,-14.00)(98.33,-13.55)(98.38,-13.90)(98.43,-13.50)(98.48,-13.85)(98.53,-13.45)(98.58,-13.80)(98.63,-13.40)(98.68,-13.75)(98.73,-13.35)(98.78,-13.70)(98.83,-13.30)(98.88,-13.65)(98.93,-13.30)(98.98,-13.60)(99.03,-13.25)(99.08,-13.60)(99.13,-13.20)(99.18,-13.55)(99.23,-13.20)(99.28,-13.55)(99.33,-13.20)(99.38,-13.50)
(99.41,-13.35)(99.43,-10.80)(99.47,-11.30)(99.52,-11.05)(99.57,-11.55)(99.62,-11.30)(99.67,-11.80)(99.72,-11.50)(99.77,-11.95)(99.82,-11.65)(99.87,-12.10)(99.92,-11.80)(99.97,-12.20)(100.00,-11.95)
};
% 0N series
\addplot[red, line width=2.2bp] table[x=t, y=red] {\flat};
\addplot[blue, line width=2.2bp] table[x=t, y=blue] {\flat};
\addplot[corange, line width=2.2bp] table[x=t, y=orange] {\flat};
% zero line
\addplot[black, line width=3.5bp] coordinates {(80,0)(100,0)};
% annotations and legend
\node[anchor=base west, font=\fontsize{28bp}{28bp}\selectfont\bfseries] at (axis cs:81.04,10.97) {5X5 mm\textsuperscript{2}};
\node[anchor=base, font=\fontsize{24bp}{24bp}\selectfont] at (axis cs:94.96,11.99) {3N};
\node[anchor=base, font=\fontsize{24bp}{24bp}\selectfont] at (axis cs:98.62,11.99) {0N};
\node[anchor=base, font=\fontsize{24bp}{24bp}\selectfont\bfseries] at (axis cs:92.19,9.12) {765 lux};
\node[anchor=base, font=\fontsize{24bp}{24bp}\selectfont\bfseries] at (axis cs:92.19,6.14) {2440 lux};
\node[anchor=base, font=\fontsize{24bp}{24bp}\selectfont\bfseries] at (axis cs:92.19,3.20) {4150 lux};
\draw[black, line width=1.2bp] (axis cs:94.19,9.90) -- (axis cs:96.45,9.90);
\draw[red, line width=1.2bp] (axis cs:97.43,9.90) -- (axis cs:99.72,9.90);
\draw[cgreen, line width=1.2bp] (axis cs:94.19,6.99) -- (axis cs:96.45,6.99);
\draw[blue, line width=1.2bp] (axis cs:97.43,6.99) -- (axis cs:99.72,6.99);
\draw[colive, line width=1.2bp] (axis cs:94.19,3.94) -- (axis cs:96.45,3.94);
\draw[corange, line width=1.2bp] (axis cs:97.43,3.94) -- (axis cs:99.72,3.94);
\end{axis}
\pgfresetboundingbox
\path[use as bounding box] (-122.5bp,-91bp) rectangle (516.5bp,387bp);
\end{tikzpicture}
\end{document}
